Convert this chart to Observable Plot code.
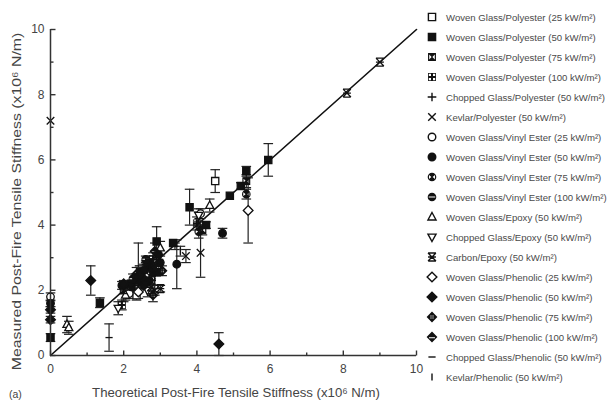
<!DOCTYPE html>
<html><head><meta charset="utf-8">
<script src="https://cdn.jsdelivr.net/npm/d3@7"></script>
<script src="https://cdn.jsdelivr.net/npm/@observablehq/plot@0.6"></script>
<style>
body{margin:0;background:#fff;}
#wrap{position:relative;width:610px;height:410px;font-family:"Liberation Sans",Arial,sans-serif;color:#444;overflow:hidden;background:#fff}
#chart{position:absolute;left:0;top:0}
.row{position:absolute;left:424px;height:20px;display:flex;align-items:center;font-size:9.6px;white-space:nowrap;color:#4a4a4a}
.row svg{width:16px;height:14px;margin-right:6px;overflow:visible}
.xt{position:absolute;left:0;width:472px;top:385px;text-align:center;font-size:13.2px;color:#444;white-space:nowrap}
.yt{position:absolute;left:-164px;top:194px;width:360px;text-align:center;font-size:13.2px;color:#444;white-space:nowrap;transform:rotate(-90deg) scaleX(1.2);transform-origin:50% 50%}
.tag{position:absolute;left:9px;top:388px;font-size:10.5px;color:#444}
</style></head><body><div id="wrap"><div id="chart"></div></div>
<script>
// ---- data ----
const seriesNames = [
  "Woven Glass/Polyester (25 kW/m²)",
  "Woven Glass/Polyester (50 kW/m²)",
  "Woven Glass/Polyester (75 kW/m²)",
  "Woven Glass/Polyester (100 kW/m²)",
  "Chopped Glass/Polyester (50 kW/m²)",
  "Kevlar/Polyester (50 kW/m²)",
  "Woven Glass/Vinyl Ester (25 kW/m²)",
  "Woven Glass/Vinyl Ester (50 kW/m²)",
  "Woven Glass/Vinyl Ester (75 kW/m²)",
  "Woven Glass/Vinyl Ester (100 kW/m²)",
  "Woven Glass/Epoxy (50 kW/m²)",
  "Chopped Glass/Epoxy (50 kW/m²)",
  "Carbon/Epoxy (50 kW/m²)",
  "Woven Glass/Phenolic (25 kW/m²)",
  "Woven Glass/Phenolic (50 kW/m²)",
  "Woven Glass/Phenolic (75 kW/m²)",
  "Woven Glass/Phenolic (100 kW/m²)",
  "Chopped Glass/Phenolic (50 kW/m²)",
  "Kevlar/Phenolic (50 kW/m²)"
];
// [theoretical, measured, error]
const wgPolyester25 = [[4.5,5.35,0.35],[2.35,1.85,0.15],[2.75,2.3,0.12]];
const wgPolyester50 = [[5.95,6.0,0.5],[3.8,4.55,0.55],[4.9,4.9,0],[5.35,5.65,0.15],[5.2,5.2,0.1],[3.35,3.45,0],[2.9,3.5,0.45],[0,0.55,0.12],[1.35,1.62,0.15],[4.25,4.0,0.1],[2.45,2.55,0.15],[2.7,2.85,0.2],[2.55,2.35,0.1],[2.2,2.2,0.1],[2.6,2.45,0.1],[2.8,2.6,0.15],[2.4,2.3,0.1],[2.65,2.75,0.1],[2.9,2.55,0.1]];
const wgPolyester75 = [[5.35,5.35,0.2],[2.6,2.7,0.2],[4.15,3.85,0.15],[2.0,2.0,0.1],[2.75,2.4,0.1]];
const wgPolyester100 = [[2.8,2.95,0.2],[4.0,4.05,0.2],[1.95,1.55,0.15],[2.5,2.2,0.15],[2.85,2.75,0.1]];
const cgPolyester50 = [[2.4,2.15,0.2],[4.05,4.2,0.2],[2.9,3.0,0.15]];
const kevlarPolyester50 = [[0,7.2,0],[4.1,3.15,0.75],[3.7,3.05,0.2],[2.85,2.0,0.15],[2.3,2.0,0.1]];
const wgVinyl25 = [[0,1.8,0.12],[2.15,1.9,0.15],[4.1,4.35,0.15],[2.65,2.45,0.15]];
const wgVinyl50 = [[0,1.6,0.1],[3.45,2.8,0.75],[4.7,3.75,0.15],[1.95,2.15,0.12],[2.55,2.6,0.2],[3.0,2.85,0.2],[2.35,2.4,0.1],[2.7,2.3,0.1],[2.95,3.1,0.15]];
const wgVinyl75 = [[5.35,4.95,0.15],[2.75,2.55,0.2],[4.05,3.8,0.2],[2.2,2.1,0.1]];
const wgVinyl100 = [[2.9,2.7,0.2],[2.25,2.35,0.15],[2.6,2.95,0.1]];
const wgEpoxy50 = [[0.45,0.95,0.25],[0.5,0.85,0.2],[4.35,4.6,0.2],[3.0,3.3,0.2],[2.05,1.85,0.15]];
const cgEpoxy50 = [[1.85,1.45,0.2],[2.65,2.0,0.2],[4.05,4.3,0.2]];
const carbonEpoxy50 = [[8.1,8.05,0],[9.0,9.0,0],[2.75,2.1,0.2],[3.0,2.05,0.1]];
const wgPhenolic25 = [[5.4,4.45,1.0],[2.4,1.95,0.2]];
const wgPhenolic50 = [[0,1.4,0.1],[0,1.1,0.1],[1.1,2.3,0.45],[4.6,0.35,0.35],[2.45,2.45,0.15],[2.0,2.2,0.1],[2.55,2.15,0.1]];
const wgPhenolic75 = [[2.8,1.85,0.2],[2.35,2.5,0.2],[3.05,2.6,0.15]];
const wgPhenolic100 = [[2.6,2.3,0.15],[2.85,3.2,0.25]];
const cgPhenolic50 = [[1.6,0.55,0.42],[2.4,2.75,0.7],[3.4,3.35,0.1],[2.0,1.9,0.25]];
const kevlarPhenolic50 = [[2.7,2.7,0.1],[3.55,3.2,0.15]];
const parityLine = [0, 10];
const majorTicks = [0, 2, 4, 6, 8, 10];
const minorTicks = [1, 3, 5, 7, 9];
const xTitle = "Theoretical Post-Fire Tensile Stiffness (x10⁶ N/m)";
const yTitle = "Measured Post-Fire Tensile Stiffness (x10⁶ N/m)";
const panelTag = "(a)";

const seriesData = [wgPolyester25, wgPolyester50, wgPolyester75, wgPolyester100, cgPolyester50, kevlarPolyester50,
  wgVinyl25, wgVinyl50, wgVinyl75, wgVinyl100, wgEpoxy50, cgEpoxy50, carbonEpoxy50,
  wgPhenolic25, wgPhenolic50, wgPhenolic75, wgPhenolic100, cgPhenolic50, kevlarPhenolic50];

// ---- symbols ----
const R = (size) => Math.sqrt(size / Math.PI);
function sq(c, s) { c.moveTo(-s,-s); c.lineTo(s,-s); c.lineTo(s,s); c.lineTo(-s,s); c.closePath(); }
function circ(c, s) { c.moveTo(s,0); c.arc(0,0,s,0,2*Math.PI); c.closePath(); }
function dia(c, s) { c.moveTo(0,-s); c.lineTo(s,0); c.lineTo(0,s); c.lineTo(-s,0); c.closePath(); }
function tri(c, x0, y0, x1, y1, x2, y2) { c.moveTo(x0,y0); c.lineTo(x1,y1); c.lineTo(x2,y2); c.closePath(); }
function box(c, x, y, w, h) { c.moveTo(x,y); c.lineTo(x+w,y); c.lineTo(x+w,y+h); c.lineTo(x,y+h); c.closePath(); }
const sym = {
  square: {draw(c, z) { sq(c, R(z)); }},
  square75: {draw(c, z) { const s = R(z)*1.1; sq(c, s); tri(c, -0.7*s,-0.6*s, -0.7*s,0.6*s, -0.1*s,0); tri(c, 0.7*s,-0.6*s, 0.7*s,0.6*s, 0.1*s,0); }},
  square100: {draw(c, z) { const s = R(z)*1.1; sq(c, s); const h = 0.55*s;
    box(c,-0.8*s,-0.8*s,h,h); box(c,0.25*s,-0.8*s,h,h); box(c,-0.8*s,0.25*s,h,h); box(c,0.25*s,0.25*s,h,h); }},
  plus: {draw(c, z) { const s = R(z)*1.2; c.moveTo(-s,0); c.lineTo(s,0); c.moveTo(0,-s); c.lineTo(0,s); }},
  cross: {draw(c, z) { const s = R(z)*1.05; c.moveTo(-s,-s); c.lineTo(s,s); c.moveTo(s,-s); c.lineTo(-s,s); }},
  circle: {draw(c, z) { circ(c, R(z)*1.05); }},
  circle75: {draw(c, z) { const s = R(z)*1.2; circ(c, s); tri(c, -0.7*s,-0.45*s, -0.7*s,0.45*s, -0.15*s,0); tri(c, 0.7*s,-0.45*s, 0.7*s,0.45*s, 0.15*s,0); }},
  circle100: {draw(c, z) { const s = R(z)*1.2; circ(c, s); box(c,-0.75*s,-0.12*s,1.5*s,0.24*s); }},
  triUp: {draw(c, z) { const s = R(z)*1.25; tri(c, 0,-s, 0.9*s,0.65*s, -0.9*s,0.65*s); }},
  triDown: {draw(c, z) { const s = R(z)*1.25; tri(c, 0,s, 0.9*s,-0.65*s, -0.9*s,-0.65*s); }},
  carbon: {draw(c, z) { const s = R(z)*1.1; c.moveTo(-s,-s); c.lineTo(s,s); c.moveTo(s,-s); c.lineTo(-s,s); c.moveTo(-s,-s); c.lineTo(s,-s); c.moveTo(-s,s); c.lineTo(s,s); c.moveTo(-s,0); c.lineTo(s,0); }},
  diamond: {draw(c, z) { dia(c, R(z)*1.35); }},
  diamond75: {draw(c, z) { const s = R(z)*1.5; dia(c, s); const h = 0.22*s;
    box(c,-0.3*s,-0.3*s,h,h); box(c,0.08*s,-0.3*s,h,h); box(c,-0.3*s,0.08*s,h,h); box(c,0.08*s,0.08*s,h,h); }},
  diamond100: {draw(c, z) { const s = R(z)*1.5; dia(c, s); box(c,-0.55*s,0.05*s,1.1*s,0.16*s); }},
  dash: {draw(c, z) { const s = R(z)*1.0; c.moveTo(-s,0); c.lineTo(s,0); }},
  vbar: {draw(c, z) { const s = R(z)*1.0; c.moveTo(0,-s); c.lineTo(0,s); }},
  cap: {draw(c, z) { const s = R(z); c.moveTo(-s,0); c.lineTo(s,0); }},
  tickUp: {draw(c, z) { const s = R(z); c.moveTo(0,0); c.lineTo(0,-s); }},
  tickRight: {draw(c, z) { const s = R(z); c.moveTo(0,0); c.lineTo(s,0); }}
};
// style per series: [symbol, fill, stroke]
const O = "white", K = "#111", N = "none";
const seriesStyle = [
  [sym.square, O, K], [sym.square, K, K], [sym.square75, K, N], [sym.square100, K, N],
  [sym.plus, N, K], [sym.cross, N, K],
  [sym.circle, O, K], [sym.circle, K, K], [sym.circle75, K, N], [sym.circle100, K, N],
  [sym.triUp, O, K], [sym.triDown, O, K], [sym.carbon, N, K],
  [sym.diamond, O, K], [sym.diamond, K, K], [sym.diamond75, K, N], [sym.diamond100, K, N],
  [sym.dash, N, K], [sym.vbar, N, K]
];
const MR = 3.6;

const rows = [];
seriesData.forEach((arr, i) => arr.forEach(([x, y, e]) => rows.push({series: i, x, y, e})));
const withErr = rows.filter(d => d.e > 0);

const marks = [
  Plot.line(parityLine.map(v => ({x: v, y: v})), {x: "x", y: "y", stroke: "#111", strokeWidth: 1.6}),
  Plot.ruleX(withErr, {x: "x", y1: d => d.y - d.e, y2: d => d.y + d.e, stroke: "#222", strokeWidth: 1.2}),
  Plot.dot(withErr, {x: "x", y: d => d.y - d.e, symbol: sym.cap, r: 4.8, stroke: "#222", strokeWidth: 1.2, fill: "none"}),
  Plot.dot(withErr, {x: "x", y: d => d.y + d.e, symbol: sym.cap, r: 4.8, stroke: "#222", strokeWidth: 1.2, fill: "none"})
];
seriesStyle.forEach(([symbol, fill, stroke], i) => {
  marks.push(Plot.dot(rows.filter(d => d.series === i), {x: "x", y: "y", symbol, r: MR, fill, stroke, strokeWidth: 1.3}));
});
marks.push(
  Plot.ruleX([0], {stroke: "#333", strokeWidth: 1.5}),
  Plot.ruleY([0], {stroke: "#333", strokeWidth: 1.5}),
  // inward ticks
  Plot.dot(majorTicks, {x: d => d, y: 0, symbol: sym.tickUp, r: 5, stroke: "#333", strokeWidth: 1.4}),
  Plot.dot(minorTicks, {x: d => d, y: 0, symbol: sym.tickUp, r: 3, stroke: "#333", strokeWidth: 1.4}),
  Plot.dot(majorTicks, {x: 0, y: d => d, symbol: sym.tickRight, r: 5, stroke: "#333", strokeWidth: 1.4}),
  Plot.dot(minorTicks, {x: 0, y: d => d, symbol: sym.tickRight, r: 3, stroke: "#333", strokeWidth: 1.4}),
  Plot.axisX(majorTicks, {tickSize: 0, tickPadding: 9, fill: "#444", fontSize: 12, label: null}),
  Plot.axisY(majorTicks, {tickSize: 0, tickPadding: 6, fill: "#444", fontSize: 12, label: null})
);

const chart = Plot.plot({
  width: 430, height: 410,
  marginLeft: 50, marginRight: 14, marginTop: 29, marginBottom: 55,
  x: {domain: [0, 10]}, y: {domain: [0, 10]},
  style: {fontFamily: "'Liberation Sans', Arial, sans-serif", background: "white", overflow: "visible"},
  marks
});
chart.style.fillRule = "evenodd";
const wrap = document.getElementById("wrap");
document.getElementById("chart").appendChild(chart);

// titles
const xt = document.createElement("div"); xt.className = "xt"; xt.textContent = xTitle; wrap.appendChild(xt);
const yt = document.createElement("div"); yt.className = "yt"; yt.textContent = yTitle; wrap.appendChild(yt);
const tg = document.createElement("div"); tg.className = "tag"; tg.textContent = panelTag; wrap.appendChild(tg);

// legend
seriesNames.forEach((name, i) => {
  const [symbol, fill, stroke] = seriesStyle[i];
  const p = d3.path(); symbol.draw(p, Math.PI * MR * MR);
  const row = document.createElement("div"); row.className = "row";
  row.style.top = (17 + 20 * i - 10) + "px";
  row.innerHTML = `<svg viewBox="-8 -7 16 14"><path d="${p}" fill="${fill}" stroke="${stroke}" stroke-width="1.4" fill-rule="evenodd"/></svg>`;
  const t = document.createElement("span"); t.textContent = name; row.appendChild(t);
  wrap.appendChild(row);
});
</script></body></html>
